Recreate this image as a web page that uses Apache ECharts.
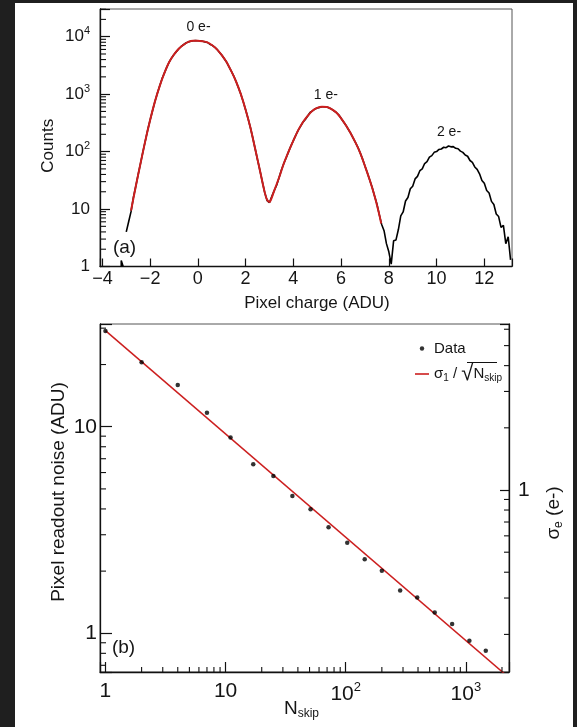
<!DOCTYPE html>
<html><head><meta charset="utf-8">
<script src="https://cdn.jsdelivr.net/npm/echarts@6/dist/echarts.min.js"></script>
<style>
html,body{margin:0;padding:0;background:#1f1f1f;width:577px;height:727px;overflow:hidden}
#c{position:absolute;left:15px;top:3px;width:558px;height:724px;background:#fff}
</style></head><body><div id="c"></div>
<script>
// ---------- DATA (panel a) ----------
const chargeX = [-3.0,-2.9,-2.8,-2.7,-2.6,-2.5,-2.4,-2.3,-2.2,-2.1,-2.0,-1.9,-1.8,-1.7,-1.6,-1.5,-1.4,-1.3,-1.2,-1.1,
 -1.0,-0.9,-0.8,-0.7,-0.6,-0.5,-0.4,-0.3,-0.2,-0.1,0.0,0.1,0.2,0.3,0.4,0.5,0.6,0.7,0.8,0.9,
 1.0,1.1,1.2,1.3,1.4,1.5,1.6,1.7,1.8,1.9,2.0,2.1,2.2,2.3,2.4,2.5,2.6,2.7,2.8,2.9,
 3.0,3.1,3.2,3.3,3.4,3.5,3.6,3.7,3.8,3.9,4.0,4.1,4.2,4.3,4.4,4.5,4.6,4.7,4.8,4.9,
 5.0,5.1,5.2,5.3,5.4,5.5,5.6,5.7,5.8,5.9,6.0,6.1,6.2,6.3,6.4,6.5,6.6,6.7,6.8,6.9,
 7.0,7.1,7.2,7.3,7.4,7.5,7.6,7.7,7.8,7.9,8.0,8.1,8.2,8.3,8.4,8.5,8.6,8.7,8.8,8.9,
 9.0,9.1,9.2,9.3,9.4,9.5,9.6,9.7,9.8,9.9,10.0,10.1,10.2,10.3,10.4,10.5,10.6,10.7,10.8,10.9,
 11.0,11.1,11.2,11.3,11.4,11.5,11.6,11.7,11.8,11.9,12.0,12.1,12.2,12.3,12.4,12.5,12.6,12.7,12.8,12.9,
 13.0,13.1];
const counts = [4,6,9,16,25,40,63,100,155,240,355,513,741,1023,1380,1862,2344,2951,3631,4266,
 4898,5495,6166,6761,7244,7762,8128,8318,8511,8530,8520,8490,8318,8128,7943,7413,7079,6607,6026,5370,
 4786,4169,3631,3020,2512,2089,1660,1288,1000,741,537,380,263,174,112,72,47,30,19.5,14,
 13,16.6,21,26,35,48,62,78,100,126,155,191,234,275,324,363,417,479,513,550,
 575,589,603,603,600,575,550,513,479,437,380,331,288,245,209,174,145,120,95,74,
 56,43,32,24,17,12.3,8,5.4,4.2,2.5,1.8,1.1,2.8,2.9,4.4,7.6,8.9,13.8,15.9,22.5,
 25,33.5,37,46.5,50,62,67,80,85,97,100,109,111,119,117,125,121,122,114,112,
 102,97,87,83,70,65,54,49,41,31.5,28,21,19,13.6,12,8.2,7.4,4.8,5.2,2.5,
 3.3,1.3];
const strayBinX = [-3.21,-3.21,-3.13,-3.13];
const strayBinY = [1,1.27,1.27,1];
const fitChargeX = [-2.8,-2.6,-2.4,-2.2,-2.0,-1.8,-1.6,-1.4,-1.2,-1.0,-0.8,-0.6,-0.4,-0.2,0.0,0.2,0.4,0.6,0.8,1.0,
 1.2,1.4,1.6,1.8,2.0,2.2,2.4,2.6,2.8,2.9,3.0,3.1,3.2,3.4,3.6,3.8,4.0,4.2,4.4,4.6,
 4.8,5.0,5.2,5.4,5.6,5.8,6.0,6.2,6.4,6.6,6.8,7.0,7.2,7.4,7.6,7.68];
const fitCounts = [9.4,25,63,155,355,741,1380,2344,3631,4898,6166,7244,8128,8511,8520,8318,7943,7079,6026,4786,
 3631,2512,1660,1000,537,263,112,47,19.5,14.5,13.2,16,21,35,62,100,155,234,324,417,
 513,575,603,600,550,479,380,288,209,145,95,56,32,17,8,5.6];
const peakLabels = ['0 e-','1 e-','2 e-'];
const topXRange = [-4.1, 13.16];
const topYRange = [1, 30340];
const topYMinor = [2,3,4,5,6,7,8,9,20,30,40,50,60,70,80,90,200,300,400,500,600,700,800,900,
 2000,3000,4000,5000,6000,7000,8000,9000,20000,30000];

// ---------- DATA (panel b) ----------
const nskip = [1,2,4,7,11,17,25,36,51,72,103,144,200,284,394,551,769,1071,1466];
const noise = [29.1,20.5,15.9,11.7,8.88,6.59,5.77,4.62,3.99,3.26,2.74,2.28,2.01,1.61,1.49,1.26,1.11,0.92,0.824];
const fitNskip = [1, 2288];
const fitNoise = [29.2, 0.61];
const botXRange = [0.901, 2288];
const botYRange = [0.6497, 31.42];
const gainADU = 4.939; // ADU per electron (right axis)
const botXMinor = [2,3,4,5,6,7,8,9,20,30,40,50,60,70,80,90,200,300,400,500,600,700,800,900,2000];
const botYMinor = [0.7,0.8,0.9,2,3,4,5,6,7,8,9,20,30];
const rightYMinor = [0.2,0.3,0.4,0.5,0.6,0.7,0.8,0.9,2,3,4,5,6];

// ---------- STYLE ----------
const FONT = '"Liberation Sans", Arial, Helvetica, sans-serif';
const TXT = '#151515';
const AX = '#111';
const RED = '#cc1f1f';
const FIT_NAME = 'σ1 / √Nskip';

const zip = (a, b) => a.map((v, i) => [v, b[i]]);
const isPow10 = v => Math.abs(Math.log10(v) - Math.round(Math.log10(v))) < 1e-6;
function powLabel(v) {
  if (!isPow10(v)) return '';
  const e = Math.round(Math.log10(v));
  if (e === 0) return '{b|1}';
  if (e === 1) return '{b|10}';
  return '{b|10}{p|' + e + '}';
}
function minorTicks(xi, yi, pts, dx, dy) {
  return {
    type: 'custom', xAxisIndex: xi, yAxisIndex: yi, silent: true, clip: false, z: 4,
    data: pts,
    renderItem: function (params, api) {
      const p = api.coord([api.value(0), api.value(1)]);
      return { type: 'line', shape: { x1: p[0], y1: p[1], x2: p[0] + dx, y2: p[1] + dy },
        style: { stroke: AX, lineWidth: 1.1 } };
    }
  };
}
const lbl = (size, extra) => Object.assign({ color: TXT, fontFamily: FONT, fontSize: size }, extra || {});

const chart = echarts.init(document.getElementById('c'), null, { renderer: 'canvas' });
const option = {
  animation: false,
  backgroundColor: '#fff',
  grid: [
    { left: 85, top: 6, width: 412, height: 257.5, show: true, borderColor: '#555', borderWidth: 1, backgroundColor: 'transparent' },
    { left: 85, top: 321, width: 413, height: 348, show: true, borderColor: '#555', borderWidth: 1, backgroundColor: 'transparent' }
  ],
  xAxis: [
    { gridIndex: 0, type: 'value', min: topXRange[0], max: topXRange[1], splitNumber: 8, minInterval: 2, maxInterval: 2,
      axisLine: { show: true, onZero: false, lineStyle: { color: AX, width: 1.3 } },
      axisTick: { show: true, inside: true, length: 8, lineStyle: { color: AX, width: 1.2 } },
      splitLine: { show: false },
      axisLabel: lbl(18, { margin: 4, showMinLabel: true, showMaxLabel: true,
        formatter: v => (Math.abs(v / 2 - Math.round(v / 2)) < 1e-6 ? (v < 0 ? '\u2212' : '') + Math.abs(Math.round(v)) : '') }),
      name: 'Pixel charge (ADU)', nameLocation: 'middle', nameGap: 28, nameMoveOverlap: false,
      nameTextStyle: lbl(17, { padding: [0, 0, 0, 22] }) },
    { gridIndex: 1, type: 'log', logBase: 10, min: botXRange[0], max: botXRange[1],
      axisLine: { show: true, onZero: false, lineStyle: { color: AX, width: 1.3 } },
      axisTick: { show: true, inside: true, length: 10, lineStyle: { color: AX, width: 1.2 } },
      splitLine: { show: false }, minorTick: { show: false },
      axisLabel: lbl(21, { margin: 9, formatter: powLabel,
        rich: { b: lbl(21), p: lbl(13, { padding: [0, 0, 13, 0] }) } }),
      name: 'N{s|skip}', nameLocation: 'middle', nameGap: 25, nameMoveOverlap: false,
      nameTextStyle: lbl(19, { padding: [0, 6, 0, 0], rich: { s: lbl(12, { padding: [11, 0, 0, 0] }) } }) }
  ],
  yAxis: [
    { gridIndex: 0, type: 'log', logBase: 10, min: topYRange[0], max: topYRange[1],
      axisLine: { show: true, onZero: false, lineStyle: { color: AX, width: 1.3 } },
      axisTick: { show: true, inside: true, length: 10, lineStyle: { color: AX, width: 1.2 } },
      splitLine: { show: false },
      axisLabel: lbl(17, { margin: 10, formatter: powLabel,
        rich: { b: lbl(17), p: lbl(11, { padding: [0, 0, 11, 0] }) } }),
      name: 'Counts', nameLocation: 'middle', nameGap: 43, nameMoveOverlap: false,
      nameTextStyle: lbl(17, { padding: [0, 16, 0, 0] }) },
    { gridIndex: 1, type: 'log', logBase: 10, min: botYRange[0], max: botYRange[1],
      axisLine: { show: true, onZero: false, lineStyle: { color: AX, width: 1.3 } },
      axisTick: { show: true, inside: true, length: 12, lineStyle: { color: AX, width: 1.2 } },
      splitLine: { show: false },
      axisLabel: lbl(21, { margin: 3, formatter: powLabel, rich: { b: lbl(21), p: lbl(13, { padding: [0, 0, 13, 0] }) } }),
      name: 'Pixel readout noise (ADU)', nameLocation: 'middle', nameGap: 32, nameMoveOverlap: false,
      nameTextStyle: lbl(19, { padding: [0, 0, 0, 12] }) },
    { gridIndex: 1, type: 'log', logBase: 10, position: 'right',
      min: botYRange[0] / gainADU, max: botYRange[1] / gainADU,
      axisLine: { show: true, onZero: false, lineStyle: { color: AX, width: 1.3 } },
      axisTick: { show: true, inside: true, length: 9, lineStyle: { color: AX, width: 1.2 } },
      splitLine: { show: false },
      axisLabel: lbl(21, { margin: 9, formatter: powLabel, rich: { b: lbl(21), p: lbl(13, { padding: [0, 0, 13, 0] }) } }),
      name: 'σ{s|e} (e-)', nameLocation: 'middle', nameGap: 33, nameMoveOverlap: false,
      nameTextStyle: lbl(19, { padding: [0, 30, 0, 0], rich: { s: lbl(12, { padding: [11, 0, 0, 0] }) } }) }
  ],
  legend: {
    orient: 'vertical', left: 400, top: 338, padding: 0, itemWidth: 14, itemHeight: 14, itemGap: 7, selectedMode: false,
    data: [
      { name: 'Data', icon: 'path://M0,0 M14,14 M7,4.8 A2.2,2.2 0 1 1 7,9.2 A2.2,2.2 0 1 1 7,4.8 Z' },
      { name: FIT_NAME, icon: 'path://M0,6 L14,6 L14,7.6 L0,7.6 Z' }
    ],
    textStyle: lbl(15, { rich: { t: lbl(15), s: lbl(10, { padding: [9, 0, 0, 0] }), r: lbl(22) } }),
    formatter: n => (n === FIT_NAME ? '{t|σ}{s|1}{t| / }{r|√}{t|N}{s|skip}' : n)
  },
  graphic: [
    { type: 'text', x: 183.5, y: 24, style: { text: peakLabels[0], fontSize: 14, fontFamily: FONT, fill: TXT, align: 'center', verticalAlign: 'middle' } },
    { type: 'text', x: 310.8, y: 92, style: { text: peakLabels[1], fontSize: 14, fontFamily: FONT, fill: TXT, align: 'center', verticalAlign: 'middle' } },
    { type: 'text', x: 434, y: 129.3, style: { text: peakLabels[2], fontSize: 14, fontFamily: FONT, fill: TXT, align: 'center', verticalAlign: 'middle' } },
    { type: 'text', x: 109.5, y: 244.3, style: { text: '(a)', fontSize: 19, fontFamily: FONT, fill: TXT, align: 'center', verticalAlign: 'middle' } },
    { type: 'text', x: 108.5, y: 645, style: { text: '(b)', fontSize: 19, fontFamily: FONT, fill: TXT, align: 'center', verticalAlign: 'middle' } },
    { type: 'line', shape: { x1: 452, y1: 359.5, x2: 482, y2: 359.5 }, style: { stroke: AX, lineWidth: 1 } }
  ],
  series: [
    { name: 'Histogram', type: 'line', xAxisIndex: 0, yAxisIndex: 0, showSymbol: false, symbol: 'none',
      data: zip(chargeX, counts), lineStyle: { color: '#000', width: 1.6 }, itemStyle: { color: '#000' }, z: 2 },
    { name: 'Stray', type: 'line', xAxisIndex: 0, yAxisIndex: 0, symbol: 'none',
      data: zip(strayBinX, strayBinY), lineStyle: { color: '#000', width: 1.6 }, z: 2 },
    { name: 'Fit', type: 'line', xAxisIndex: 0, yAxisIndex: 0, smooth: 0.3, symbol: 'none',
      data: zip(fitChargeX, fitCounts), lineStyle: { color: RED, width: 2 }, itemStyle: { color: RED }, z: 3 },
    minorTicks(0, 0, topYMinor.map(v => [topXRange[0], v]), 6, 0),
    { name: FIT_NAME, type: 'line', xAxisIndex: 1, yAxisIndex: 1, symbol: 'none',
      data: zip(fitNskip, fitNoise), lineStyle: { color: RED, width: 1.5 }, itemStyle: { color: RED }, z: 3 },
    { name: 'Data', type: 'scatter', xAxisIndex: 1, yAxisIndex: 1, symbol: 'circle', symbolSize: 4.5,
      data: zip(nskip, noise), itemStyle: { color: '#000' }, z: 5 },
    minorTicks(1, 1, botXMinor.map(v => [v, botYRange[0]]), 0, -5),
    minorTicks(1, 1, botYMinor.map(v => [botXRange[0], v]), 6, 0),
    minorTicks(1, 2, rightYMinor.map(v => [botXRange[1], v]), -5, 0)
  ]
};
chart.setOption(option);
</script></body></html>
